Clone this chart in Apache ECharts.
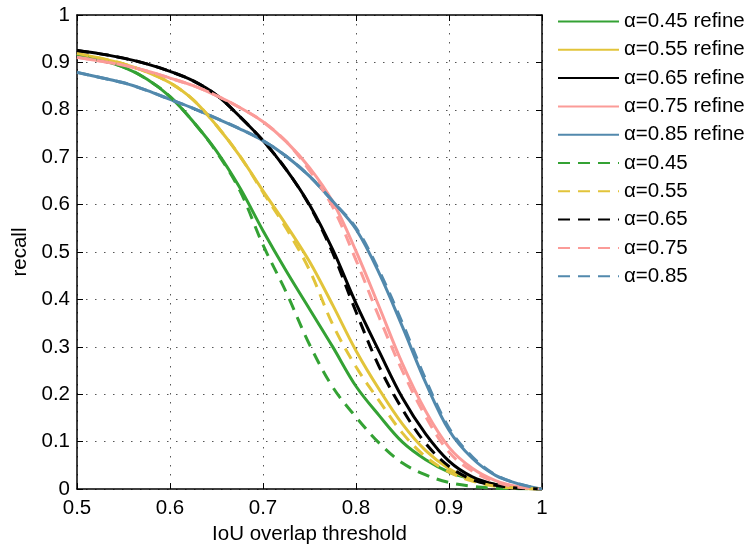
<!DOCTYPE html>
<html>
<head>
<meta charset="utf-8">
<script src="https://cdn.jsdelivr.net/npm/echarts@6/dist/echarts.min.js"></script>
<style>html,body{margin:0;padding:0;background:#fff}#c{width:749px;height:550px}</style>
</head>
<body>
<div id="c"></div>
<script>
const iou = [0.5,0.525,0.55,0.575,0.6,0.625,0.65,0.675,0.7,0.725,0.75,0.775,0.8,0.825,0.85,0.875,0.9,0.925,0.95,0.975,1.0];
const xTicks = ['0.5','0.6','0.7','0.8','0.9','1'];
const yTicks = ['0','0.1','0.2','0.3','0.4','0.5','0.6','0.7','0.8','0.9','1'];

const green_refine  = [0.917,0.905,0.89,0.865,0.828,0.775,0.713,0.636,0.545,0.46,0.38,0.3,0.217,0.155,0.099,0.062,0.036,0.021,0.01,0.003,0];
const yellow_refine = [0.919,0.909,0.897,0.88,0.857,0.821,0.767,0.703,0.629,0.557,0.48,0.388,0.292,0.21,0.137,0.081,0.043,0.02,0.008,0.002,0];
const black_refine  = [0.925,0.918,0.909,0.897,0.881,0.861,0.831,0.786,0.735,0.674,0.6,0.505,0.392,0.29,0.192,0.116,0.059,0.026,0.01,0.003,0];
const pink_refine   = [0.911,0.903,0.894,0.882,0.867,0.851,0.83,0.805,0.775,0.733,0.678,0.606,0.502,0.384,0.264,0.164,0.088,0.044,0.018,0.005,0];
const blue_refine   = [0.879,0.868,0.857,0.841,0.822,0.803,0.782,0.76,0.735,0.702,0.66,0.607,0.548,0.455,0.342,0.224,0.124,0.065,0.029,0.011,0];

const green_plain  = [0.917,0.905,0.89,0.865,0.828,0.775,0.711,0.63,0.515,0.415,0.305,0.215,0.152,0.097,0.055,0.03,0.014,0.006,0.002,0.001,0];
const yellow_plain = [0.919,0.909,0.897,0.88,0.857,0.821,0.767,0.703,0.626,0.55,0.462,0.347,0.258,0.186,0.118,0.068,0.036,0.017,0.006,0.002,0];
const black_plain  = [0.925,0.918,0.909,0.897,0.881,0.861,0.831,0.786,0.735,0.674,0.598,0.498,0.374,0.258,0.168,0.096,0.048,0.02,0.008,0.002,0];
const pink_plain   = [0.911,0.903,0.894,0.882,0.867,0.851,0.83,0.805,0.775,0.733,0.672,0.595,0.483,0.362,0.249,0.153,0.078,0.038,0.015,0.004,0];
const blue_plain   = [0.879,0.868,0.857,0.841,0.822,0.803,0.782,0.76,0.735,0.702,0.66,0.607,0.551,0.46,0.35,0.231,0.129,0.068,0.03,0.011,0];

const names = ['α=0.45 refine','α=0.55 refine','α=0.65 refine','α=0.75 refine','α=0.85 refine',
               'α=0.45','α=0.55','α=0.65','α=0.75','α=0.85'];
const colors = ['#34a234','#e2c43a','#000000','#fb9b98','#5289ad'];
const dataSets = [green_refine,yellow_refine,black_refine,pink_refine,blue_refine,
                  green_plain,yellow_plain,black_plain,pink_plain,blue_plain];

const FONT = 'Liberation Sans, Arial, sans-serif';
const FS = 20.5;
const series = dataSets.map((arr, i) => ({
  name: names[i],
  type: 'line',
  xAxisIndex: 0, yAxisIndex: 0,
  data: arr.map((v, j) => [iou[j], v]),
  symbol: 'none',
  smooth: 0.35,
  z: i < 5 ? 2 : 3,
  lineStyle: {
    color: colors[i % 5],
    width: 3,
    type: i < 5 ? 'solid' : [12, 8]
  },
  itemStyle: { color: colors[i % 5] }
}));

const chart = echarts.init(document.getElementById('c'), null, {renderer: 'canvas'});
const gridLine = { show: true, lineStyle: { color: '#555', width: 1, type: [1.5, 7.5] } };
chart.setOption({
  animation: false,
  backgroundColor: '#fff',
  grid: { left: 77, right: 207, top: 15, bottom: 60, containLabel: false },
  legend: {
    orient: 'vertical',
    left: 557, top: 11, padding: 0,
    itemWidth: 61, itemHeight: 20, itemGap: 7.3,
    itemStyle: { opacity: 0 },
    textStyle: { fontFamily: FONT, fontSize: FS, color: '#000', lineHeight: 20, padding: 0 },
    data: names
  },
  xAxis: [{
    type: 'value', min: 0.5, max: 1, interval: 0.1,
    name: 'IoU overlap threshold', nameLocation: 'middle', nameGap: 30,
    nameTextStyle: { fontFamily: FONT, fontSize: FS, color: '#000' },
    axisLine: { show: true, onZero: false, lineStyle: { color: '#000', width: 1.5 } },
    axisTick: { show: true, inside: true, length: 6, lineStyle: { color: '#000' } },
    axisLabel: { fontFamily: FONT, fontSize: FS, color: '#000', margin: 9,
      formatter: v => xTicks[Math.round((v - 0.5) * 10)] },
    splitLine: gridLine
  }, {
    type: 'value', min: 0.5, max: 1, interval: 0.1, position: 'top',
    axisLine: { show: true, onZero: false, lineStyle: { color: '#000', width: 1.5 } },
    axisTick: { show: true, inside: true, length: 6, lineStyle: { color: '#000' } },
    axisLabel: { show: false }, splitLine: { show: false }
  }],
  yAxis: [{
    type: 'value', min: 0, max: 1, interval: 0.1,
    name: 'recall', nameLocation: 'middle', nameGap: 46,
    nameTextStyle: { fontFamily: FONT, fontSize: FS, color: '#000' },
    axisLine: { show: true, onZero: false, lineStyle: { color: '#000', width: 1.5 } },
    axisTick: { show: true, inside: true, length: 6, lineStyle: { color: '#000' } },
    axisLabel: { fontFamily: FONT, fontSize: FS, color: '#000', margin: 7,
      formatter: v => yTicks[Math.round(v * 10)] },
    splitLine: gridLine
  }, {
    type: 'value', min: 0, max: 1, interval: 0.1, position: 'right',
    axisLine: { show: true, onZero: false, lineStyle: { color: '#000', width: 1.5 } },
    axisTick: { show: true, inside: true, length: 6, lineStyle: { color: '#000' } },
    axisLabel: { show: false }, splitLine: { show: false }
  }],
  series: series
});
</script>
</body>
</html>
